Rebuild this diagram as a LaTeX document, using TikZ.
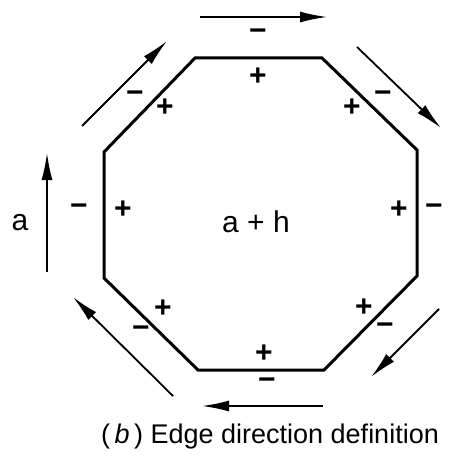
\documentclass[tikz,border=0pt]{standalone}
\usepackage{fontspec}
\setmainfont{Liberation Sans}
\usepackage{tikz}
\usetikzlibrary{arrows.meta}

\begin{document}
\begin{tikzpicture}[
    x=1pt, y=-1pt,
    edge/.style={line width=3pt, line join=miter},
    dirarr/.style={-{Latex[length=27pt,width=11pt]}, line width=1.8pt},
    sgn/.style={inner sep=0pt, font=\fontsize{30}{32}\selectfont\bfseries},
    lbl/.style={inner sep=0pt, font=\fontsize{30}{32}\selectfont},
  ]
    \useasboundingbox (0,0) rectangle (459,460);

    % octagon corners
    \coordinate (oa) at (195,58);
    \coordinate (ob) at (322,58);
    \coordinate (oc) at (417,150);
    \coordinate (od) at (417,276);
    \coordinate (oe) at (324,370);
    \coordinate (of) at (198,370);
    \coordinate (og) at (104,278);
    \coordinate (oh) at (104,152);
    \draw[edge] (oa) -- (ob) -- (oc) -- (od) -- (oe) -- (of) -- (og) -- (oh) -- cycle;

    % direction arrows, clockwise
    \coordinate (t0) at (200,17);  \coordinate (t1) at (327,17);
    \coordinate (ur0) at (357,47); \coordinate (ur1) at (441,128);
    \coordinate (lr0) at (439,309); \coordinate (lr1) at (371,377);
    \coordinate (b0) at (323,406); \coordinate (b1) at (202,406);
    \coordinate (ll0) at (173,396); \coordinate (ll1) at (73,297);
    \coordinate (l0) at (47,272);  \coordinate (l1) at (47,153);
    \coordinate (ul0) at (82,126); \coordinate (ul1) at (167,41);
    \draw[dirarr] (t0) -- (t1);
    \draw[dirarr] (ur0) -- (ur1);
    \draw[dirarr] (lr0) -- (lr1);
    \draw[dirarr] (b0) -- (b1);
    \draw[dirarr] (ll0) -- (ll1);
    \draw[dirarr] (l0) -- (l1);
    \draw[dirarr] (ul0) -- (ul1);

    % signs outside (-) and inside (+)
    \node[sgn] (mt)  at (258,35)  {−};
    \node[sgn] (pt)  at (258,77)  {+};
    \node[sgn] (mul) at (135,97)  {−};
    \node[sgn] (pul) at (165,108) {+};
    \node[sgn] (pur) at (352,108) {+};
    \node[sgn] (mur) at (383,97)  {−};
    \node[sgn] (ml)  at (79,210)  {−};
    \node[sgn] (pl)  at (123,210) {+};
    \node[sgn] (pr)  at (399,210) {+};
    \node[sgn] (mr)  at (434,210) {−};
    \node[sgn] (pll) at (163,309) {+};
    \node[sgn] (mll) at (141,332) {−};
    \node[sgn] (plr) at (364,308) {+};
    \node[sgn] (mlr) at (385,329) {−};
    \node[sgn] (pb)  at (264,354) {+};
    \node[sgn] (mb)  at (267,384) {−};

    \node[lbl] (avec)  at (20,223)  {a};
    \node[lbl] (inner) at (256,222) {a + h};
    \node[inner sep=0pt, font=\fontsize{27}{29}\selectfont] (caption) at (270,437)
      {(\,\textit{b}\,) Edge direction definition};
  \end{tikzpicture}
\end{document}
